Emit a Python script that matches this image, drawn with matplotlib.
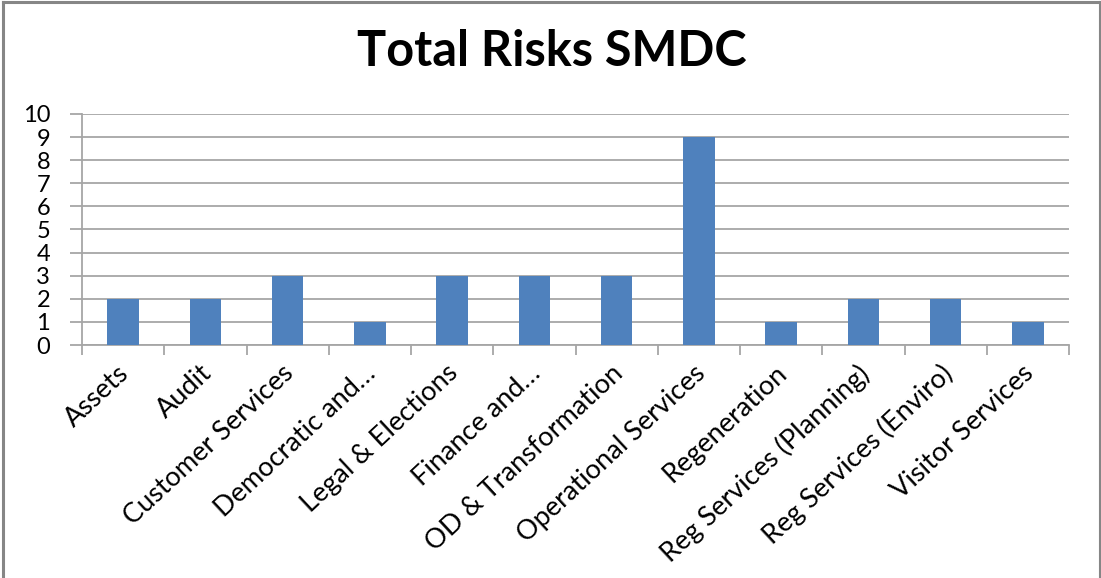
import matplotlib
matplotlib.use("Agg")
import matplotlib.pyplot as plt
import matplotlib.transforms as mtransforms
import numpy as np
from matplotlib.lines import Line2D

categories = ["Assets", "Audit", "Customer Services", "Democratic and…", "Legal & Elections",
              "Finance and…", "OD & Transformation", "Operational Services", "Regeneration",
              "Reg Services (Planning)", "Reg Services (Enviro)", "Visitor Services"]
values = [2, 2, 3, 1, 3, 3, 3, 9, 1, 2, 2, 1]
yticks = list(range(0, 11))

plt.rcParams['font.family'] = ['Lato', 'DejaVu Sans']

W, H = 1101, 578
fig = plt.figure(figsize=(W/100, H/100), dpi=100)
ax = fig.add_axes([82/W, 1 - 345/H, (1069-82)/W, (345-114)/H])

x = np.arange(len(categories))
ax.bar(x, values, width=0.38, color='#4F81BD', zorder=3)

ax.set_xlim(-0.5, len(categories) - 0.5)
ax.set_ylim(0, 10)
ax.set_yticks(yticks)
ax.set_yticklabels([str(t) for t in yticks], fontsize=17)
ax.yaxis.grid(True, color='#A6A6A6', linewidth=1.3, zorder=0)
ax.tick_params(axis='y', length=9, color='#A6A6A6', width=1.3, pad=14)

ax.set_xticks(np.arange(len(categories) + 1) - 0.5)
ax.set_xticklabels([])
ax.tick_params(axis='x', which='major', length=7, color='#A6A6A6', width=1.3)
ax.set_xticks(x, minor=True)
ax.set_xticklabels(categories, minor=True, rotation=43, ha='right',
                   rotation_mode='anchor', fontsize=19.5)
ax.tick_params(axis='x', which='minor', length=0, pad=11)
shift = mtransforms.ScaledTranslation(-6/100, 0, fig.dpi_scale_trans)
for lbl in ax.get_xticklabels(minor=True):
    lbl.set_transform(lbl.get_transform() + shift)

for s in ['top', 'right']:
    ax.spines[s].set_visible(False)
for s in ['left', 'bottom']:
    ax.spines[s].set_color('#A6A6A6')
    ax.spines[s].set_linewidth(1.3)

fig.text(552/W, 1 - 52/H, "Total Risks SMDC", ha='center', va='center',
         fontsize=35, fontweight='bold')

bc = '#868686'
fig.add_artist(Line2D([3/W, 3/W], [0, 1 - 2/H], transform=fig.transFigure, color=bc, linewidth=2.2))
fig.add_artist(Line2D([3/W, 1100/W], [1 - 2/H, 1 - 2/H], transform=fig.transFigure, color=bc, linewidth=2.2))
fig.add_artist(Line2D([1100/W, 1100/W], [0, 1 - 2/H], transform=fig.transFigure, color=bc, linewidth=1.5))

fig.savefig("out.png", dpi=100)
